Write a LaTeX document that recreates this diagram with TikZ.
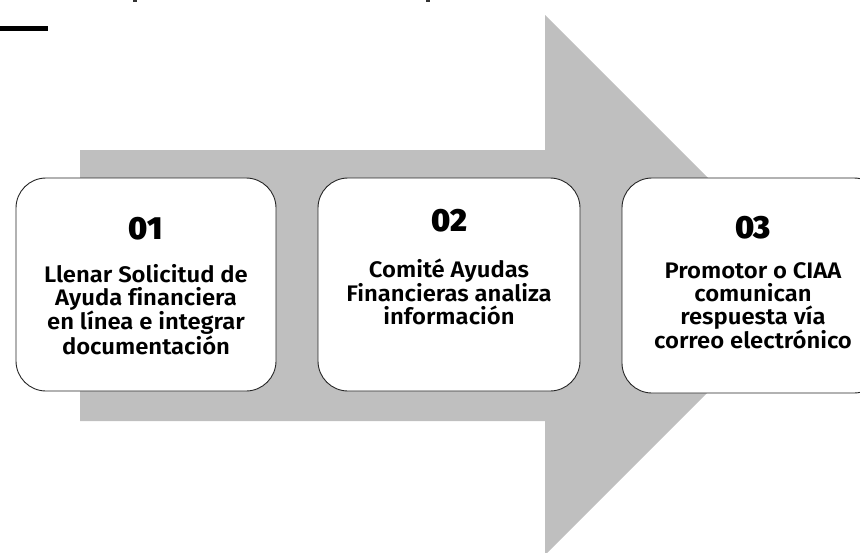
\documentclass[tikz,border=0pt]{standalone}
\usepackage{fontspec}
\setmainfont{Fira Sans}[UprightFont=* SemiBold, FakeStretch=1.06, Ligatures=CommonOff]
\newfontfamily\numfont{Fira Sans}[UprightFont=* Black]
\begin{document}
\begin{tikzpicture}[x=1pt,y=-1pt,
  stepbox/.style={draw=black!85, line width=0.9pt, fill=white, rounded corners=30pt},
  numtext/.style={font=\numfont\fontsize{32}{34}\selectfont, inner sep=0pt},
  bodytext/.style={font=\fontsize{22.5}{23}\selectfont, align=center, inner sep=0pt, anchor=north}]
\useasboundingbox (0,0) rectangle (860,552);
\definecolor{arrowgray}{HTML}{BFBFBF}
% big arrow
\fill[arrowgray] (80,150) -- (545,150) -- (545,15) -- (815,285) -- (545,555) -- (545,421) -- (80,421) -- cycle;
% top-left rule and cut-off marks
\fill[black] (0,26) rectangle (48,31);
\fill[black!80] (133,0) rectangle (137,2);
\fill[black!80] (426,0) rectangle (430,2);
% boxes
\draw[stepbox] (16,178) rectangle (276,391);
\draw[stepbox] (318,178) rectangle (580,391);
\draw[stepbox] (622,178) rectangle (884,393);
% texts
\node[numtext] (n1) at (146,229) {01};
\node[bodytext] (t1) at (146,264) {Llenar Solicitud de\\Ayuda financiera\\en línea e integrar\\documentación};
\node[numtext] (n2) at (449,221) {02};
\node[bodytext] (t2) at (449,259) {Comité Ayudas\\Financieras analiza\\información};
\node[numtext] (n3) at (753,228) {03};
\node[bodytext] (t3) at (753,262) {Promotor o CIAA\\comunican\\respuesta vía\\correo electrónico};
\end{tikzpicture}
\end{document}
